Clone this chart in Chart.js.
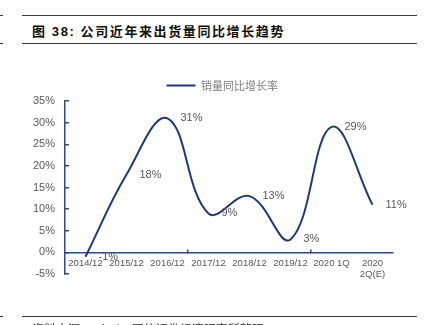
<!DOCTYPE html>
<html>
<head>
<meta charset="utf-8">
<script src="https://cdn.jsdelivr.net/npm/chart.js@4.4.0/dist/chart.umd.min.js"></script>
<style>
  html, body { margin: 0; padding: 0; background: #fff; width: 429px; height: 325px; overflow: hidden; position: relative; }
  .rule { position: absolute; height: 1px; background: #3a3a3a; }
  #title { position: absolute; left: 32px; top: 21px; font: bold 13px "Liberation Sans", "Noto Sans CJK SC", sans-serif; letter-spacing: 1.6px; color: #111; white-space: nowrap; }
  #note { position: absolute; left: 32px; top: 320px; font: 12px "Noto Sans CJK SC", sans-serif; color: #333; white-space: nowrap; }
  #wrap { position: absolute; left: 0; top: 0; width: 429px; height: 325px; }
</style>
</head>
<body>
<div class="rule" style="left:0;top:15px;width:3px"></div>
<div class="rule" style="left:22px;top:15px;width:395px"></div>
<div id="title">图 38: 公司近年来出货量同比增长趋势</div>
<div class="rule" style="left:0;top:43px;width:3px"></div>
<div class="rule" style="left:22px;top:43px;width:395px"></div>
<div id="wrap"><canvas id="chart"></canvas></div>
<div class="rule" style="left:0;top:316px;width:3px"></div>
<div class="rule" style="left:22px;top:316px;width:395px"></div>
<div id="note">资料来源：wind，国信证券经济研究所整理</div>
<script>
// Periods on the horizontal axis
const categories = ['2014/12', '2015/12', '2016/12', '2017/12', '2018/12', '2019/12', '2020 1Q', ['2020', '2Q(E)']];
// Year-on-year growth of shipments, percent
const salesGrowth = [-1, 18, 31, 9, 13, 3, 29, 11];
const seriesName = '销量同比增长率';
// Value axis range and step, percent
const yMin = -5, yMax = 35, yStep = 5;

const axisColor = '#2f4b85';
const lineColor = '#1f3a73';
const labelColor = '#595959';
const latin = '"Liberation Sans", Arial, sans-serif';

// Writes each value next to its point
const pointLabels = {
  id: 'pointLabels',
  afterDatasetsDraw(chart) {
    const ctx = chart.ctx;
    const meta = chart.getDatasetMeta(0);
    ctx.save();
    ctx.font = '11px ' + latin;
    ctx.fillStyle = labelColor;
    ctx.textAlign = 'left';
    ctx.textBaseline = 'middle';
    meta.data.forEach((pt, i) => {
      ctx.fillText(salesGrowth[i] + '%', pt.x + 13, pt.y);
    });
    ctx.restore();
  }
};

new Chart(document.getElementById('chart'), {
  type: 'line',
  data: {
    labels: categories,
    datasets: [{
      label: seriesName,
      data: salesGrowth,
      borderColor: lineColor,
      backgroundColor: lineColor,
      borderWidth: 2,
      pointRadius: 0,
      tension: 0.4,
      fill: false
    }]
  },
  options: {
    responsive: true,
    maintainAspectRatio: false,
    animation: false,
    devicePixelRatio: 1,
    layout: { padding: { top: 70, right: 36, bottom: 51, left: 0 } },
    plugins: {
      tooltip: { enabled: false },
      legend: {
        position: 'top',
        fullSize: false,
        labels: {
          usePointStyle: true,
          pointStyle: 'line',
          pointStyleWidth: 29,
          color: '#7f7f7f',
          font: { family: '"Noto Sans CJK SC", sans-serif', size: 11 },
          padding: 10,
          // a little trailing room so the entry sits slightly left of the plot centre
          generateLabels(chart) {
            const items = Chart.defaults.plugins.legend.labels.generateLabels(chart);
            items.forEach(it => { it.text = it.text + '\u3000 '; });
            return items;
          }
        }
      }
    },
    scales: {
      x: {
        type: 'category',
        position: { y: 0 },
        offset: true,
        afterFit(scale) { scale.height = 0; },
        border: { display: true, color: axisColor, width: 1.5 },
        grid: {
          offset: true,
          drawOnChartArea: false,
          drawTicks: true,
          tickLength: -4,
          lineWidth: 1.5,
          color: (c) => (c.index === 3 || c.index === 6) ? axisColor : 'rgba(0,0,0,0)'
        },
        ticks: {
          color: labelColor,
          font: { family: latin, size: 9.5 },
          padding: 9,
          maxRotation: 0,
          autoSkip: false
        }
      },
      y: {
        min: yMin,
        max: yMax,
        afterFit(scale) { scale.width = 65; },
        border: { display: true, color: axisColor, width: 1.5 },
        grid: {
          drawOnChartArea: false,
          drawTicks: true,
          tickLength: -4,
          lineWidth: 1.5,
          color: axisColor
        },
        ticks: {
          stepSize: yStep,
          color: labelColor,
          font: { family: latin, size: 11 },
          padding: 14,
          callback: (v) => v + '%'
        }
      }
    }
  },
  plugins: [pointLabels]
});
</script>
</body>
</html>
